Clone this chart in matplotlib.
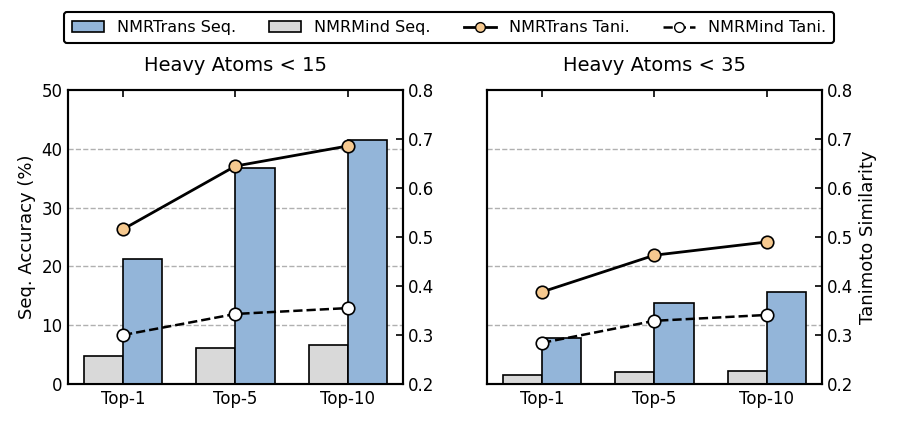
import matplotlib.pyplot as plt
from matplotlib.lines import Line2D
from matplotlib.patches import Patch
import numpy as np

categories = ["Top-1", "Top-5", "Top-10"]
titles = ["Heavy Atoms < 15", "Heavy Atoms < 35"]

# sequence accuracy (%)
trans_seq = [[21.3, 36.7, 41.5], [7.8, 13.8, 15.6]]
mind_seq = [[4.8, 6.1, 6.6], [1.5, 2.0, 2.2]]
# tanimoto similarity
trans_tani = [[0.516, 0.645, 0.686], [0.388, 0.463, 0.490]]
mind_tani = [[0.300, 0.343, 0.355], [0.284, 0.329, 0.341]]

blue = "#93b5d9"
grey = "#d9d9d9"
orange = "#f6c98f"

plt.rcParams['font.family'] = ['DejaVu Sans']
fig = plt.figure(figsize=(8.98, 4.21), dpi=100)

x = np.arange(len(categories))
w = 0.35
for i in range(2):
    left = 0.0757 if i == 0 else 0.5423
    ax = fig.add_axes([left, 0.0879, 0.373, 0.698])
    ax2 = ax.twinx()

    ax.bar(x - w / 2, mind_seq[i], w, color=grey, edgecolor="black", linewidth=1.2, zorder=3)
    ax.bar(x + w / 2, trans_seq[i], w, color=blue, edgecolor="black", linewidth=1.2, zorder=3)
    ax.set_ylim(0, 50)
    ax.set_xlim(-0.49, 2.49)
    ax.set_yticks([0, 10, 20, 30, 40, 50])
    for g in [10, 20, 30, 40]:
        ax.axhline(g, color="#b0b0b0", linestyle="--", linewidth=1, zorder=0)
    ax.set_xticks(x)
    ax.set_xticklabels(categories, fontsize=12)
    ax.tick_params(axis="x", direction="in", top=True, length=5, width=1.2, pad=4)
    ax.tick_params(axis="y", direction="in", length=0, labelsize=12, pad=4)
    if i == 0:
        ax.set_ylabel("Seq. Accuracy (%)", fontsize=13)
    else:
        ax.tick_params(axis="y", left=False, labelleft=False)
    ax.set_title(titles[i], fontsize=14, pad=14)

    ax2.plot(x, trans_tani[i], "-o", color="black", linewidth=2, markersize=9,
             markerfacecolor=orange, markeredgecolor="black", markeredgewidth=1.2, zorder=4)
    ax2.plot(x, mind_tani[i], "--o", color="black", linewidth=1.8, markersize=9,
             markerfacecolor="white", markeredgecolor="black", markeredgewidth=1.2, zorder=4)
    ax2.set_ylim(0.2, 0.8)
    ax2.set_yticks([0.2, 0.3, 0.4, 0.5, 0.6, 0.7, 0.8])
    ax2.tick_params(axis="y", direction="in", length=5, width=1.2, labelsize=12)
    if i == 1:
        ax2.set_ylabel("Tanimoto Similarity", fontsize=13)
    for a in (ax, ax2):
        for s in a.spines.values():
            s.set_linewidth(1.5)

handles = [
    Patch(facecolor=blue, edgecolor="black", linewidth=1.2, label="NMRTrans Seq."),
    Patch(facecolor=grey, edgecolor="black", linewidth=1.2, label="NMRMind Seq."),
    Line2D([], [], color="black", linestyle="-", linewidth=2, marker="o", markersize=7,
           markerfacecolor=orange, markeredgecolor="black", label="NMRTrans Tani."),
    Line2D([], [], color="black", linestyle="--", linewidth=1.8, marker="o", markersize=7,
           markerfacecolor="white", markeredgecolor="black", label="NMRMind Tani."),
]
leg = fig.legend(handles=handles, loc="upper center", bbox_to_anchor=(0.5, 0.99), ncol=4,
                 fontsize=11.5, frameon=True, edgecolor="black", fancybox=True,
                 handlelength=2.0, columnspacing=2.1, borderpad=0.5, framealpha=1)
leg.get_frame().set_linewidth(1.5)

fig.savefig("out.png", dpi=100)
